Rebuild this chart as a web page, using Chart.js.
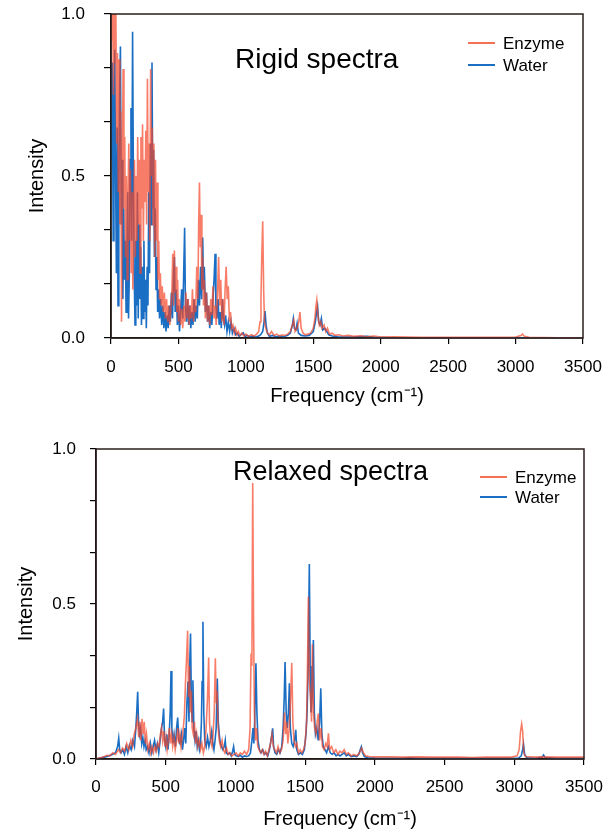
<!DOCTYPE html>
<html>
<head>
<meta charset="utf-8">
<script src="https://cdn.jsdelivr.net/npm/chart.js@4.4.1/dist/chart.umd.min.js"></script>
<style>
  body { margin: 0; background: #fff; }
  canvas { position: absolute; left: 0; }
  #rigid { top: 0; }
  #relaxed { top: 420px; }
</style>
</head>
<body>
<canvas id="rigid" width="604" height="420"></canvas>
<canvas id="relaxed" width="604" height="411"></canvas>
<script>
// [frequency cm-1, intensity]
const rigidEnzyme = [
  [5,0.92],[12,1.05],[18,0.75],[24,1.08],[30,0.85],[36,1.02],[42,0.6],[48,0.88],[54,0.45],[60,0.86],
  [66,0.35],[72,0.7],[78,0.05],[84,0.55],[90,0.83],[96,0.4],[102,0.62],[108,0.25],[114,0.5],[120,0.18],
  [126,0.42],[132,0.6],[138,0.3],[144,0.52],[150,0.2],[156,0.45],[162,0.15],[168,0.38],[174,0.55],[180,0.25],
  [186,0.5],[192,0.3],[198,0.62],[204,0.35],[210,0.55],[216,0.2],[222,0.62],[228,0.4],[234,0.66],[240,0.3],
  [246,0.55],[252,0.42],[258,0.64],[264,0.35],[270,0.8],[276,0.45],[282,0.6],[288,0.3],[294,0.83],[300,0.5],
  [306,0.65],[312,0.35],[318,0.6],[324,0.25],[330,0.55],[336,0.3],[342,0.48],[348,0.18],[354,0.3],[360,0.12],
  [366,0.2],[372,0.1],[380,0.16],[388,0.08],[396,0.14],[404,0.06],[412,0.12],[420,0.05],[428,0.1],[436,0.04],
  [444,0.09],[452,0.15],[458,0.26],[464,0.1],[470,0.27],[476,0.14],[482,0.22],[488,0.08],[494,0.18],[500,0.05],
  [508,0.12],[516,0.04],[524,0.09],[532,0.03],[540,0.1],[548,0.05],[556,0.14],[564,0.06],[572,0.12],[580,0.04],
  [588,0.1],[596,0.06],[604,0.15],[612,0.05],[620,0.12],[628,0.08],[636,0.22],[644,0.12],[650,0.35],[656,0.48],
  [662,0.28],[668,0.38],[674,0.15],[680,0.25],[686,0.1],[692,0.18],[700,0.06],[708,0.14],[716,0.05],[724,0.1],
  [732,0.04],[740,0.12],[748,0.07],[756,0.16],[764,0.06],[772,0.1],[780,0.04],[790,0.14],[798,0.25],[806,0.1],
  [814,0.18],[822,0.05],[830,0.12],[838,0.04],[846,0.15],[854,0.22],[862,0.12],[870,0.16],[878,0.05],[886,0.08],
  [894,0.03],[904,0.04],[914,0.015],[924,0.03],[934,0.01],[944,0.02],[956,0.008],[970,0.015],[985,0.006],[1000,0.012],
  [1020,0.005],[1040,0.01],[1060,0.006],[1080,0.012],[1095,0.02],[1105,0.05],[1112,0.12],[1118,0.25],[1125,0.36],[1132,0.15],
  [1138,0.05],[1148,0.03],[1160,0.015],[1175,0.01],[1190,0.02],[1210,0.008],[1230,0.012],[1250,0.006],[1270,0.01],[1290,0.008],
  [1310,0.012],[1330,0.02],[1345,0.04],[1355,0.055],[1365,0.02],[1380,0.03],[1392,0.05],[1401,0.08],[1410,0.03],[1425,0.015],
  [1440,0.01],[1460,0.012],[1480,0.015],[1500,0.03],[1512,0.06],[1520,0.1],[1526,0.117],[1534,0.07],[1545,0.04],[1555,0.05],
  [1565,0.03],[1580,0.04],[1592,0.02],[1605,0.03],[1620,0.012],[1640,0.015],[1660,0.008],[1690,0.01],[1720,0.006],[1760,0.008],
  [1800,0.005],[1850,0.007],[1900,0.004],[1950,0.006],[2000,0.003],[2100,0.004],[2200,0.003],[2300,0.002],[2500,0.002],[2700,0.002],
  [2900,0.002],[3000,0.003],[3040,0.008],[3052,0.012],[3065,0.005],[3100,0.002],[3300,0.001],[3500,0.001]
];
const rigidWater = [
  [5,0.55],[10,0.85],[16,0.3],[22,0.72],[28,0.89],[34,0.5],[40,0.2],[46,0.65],[52,0.1],[58,0.45],
  [64,0.75],[70,0.9],[76,0.35],[82,0.55],[88,0.12],[94,0.4],[100,0.18],[106,0.3],[112,0.08],[118,0.25],
  [124,0.45],[130,0.06],[136,0.2],[142,0.55],[148,0.71],[154,0.3],[160,0.945],[166,0.5],[172,0.2],[178,0.04],
  [184,0.3],[190,0.1],[196,0.45],[202,0.06],[208,0.35],[214,0.12],[220,0.28],[226,0.04],[232,0.22],[238,0.06],
  [244,0.3],[250,0.08],[256,0.18],[262,0.03],[268,0.22],[274,0.1],[280,0.45],[286,0.2],[292,0.6],[298,0.35],
  [304,0.85],[310,0.4],[316,0.58],[322,0.25],[328,0.4],[334,0.15],[340,0.25],[346,0.08],[352,0.15],[360,0.06],
  [368,0.12],[376,0.04],[384,0.1],[392,0.03],[400,0.08],[408,0.02],[416,0.07],[424,0.03],[432,0.1],[440,0.05],
  [448,0.14],[456,0.06],[464,0.2],[470,0.25],[476,0.08],[484,0.15],[492,0.04],[500,0.1],[508,0.02],[516,0.08],
  [524,0.15],[532,0.06],[540,0.22],[546,0.34],[552,0.1],[560,0.05],[568,0.12],[576,0.04],[584,0.1],[592,0.03],
  [600,0.08],[608,0.04],[616,0.12],[624,0.05],[632,0.1],[640,0.06],[648,0.18],[656,0.1],[664,0.22],[672,0.12],
  [680,0.31],[686,0.15],[692,0.22],[700,0.08],[708,0.14],[716,0.05],[724,0.1],[732,0.03],[740,0.08],[748,0.04],
  [756,0.12],[764,0.18],[772,0.26],[778,0.1],[786,0.06],[794,0.12],[802,0.04],[810,0.08],[818,0.03],[826,0.12],
  [834,0.06],[842,0.04],[850,0.07],[860,0.02],[870,0.05],[880,0.02],[890,0.05],[900,0.015],[912,0.03],[924,0.01],
  [936,0.015],[950,0.005],[965,0.01],[980,0.016],[995,0.004],[1010,0.008],[1030,0.003],[1050,0.006],[1070,0.003],[1090,0.005],
  [1110,0.01],[1125,0.02],[1135,0.05],[1142,0.083],[1150,0.04],[1160,0.015],[1175,0.005],[1200,0.008],[1220,0.004],[1250,0.006],
  [1280,0.004],[1310,0.008],[1330,0.015],[1345,0.04],[1352,0.06],[1360,0.03],[1372,0.025],[1380,0.045],[1390,0.015],[1410,0.008],
  [1440,0.006],[1470,0.008],[1500,0.02],[1515,0.05],[1525,0.08],[1532,0.097],[1540,0.05],[1550,0.04],[1560,0.06],[1570,0.025],
  [1585,0.03],[1600,0.02],[1615,0.01],[1640,0.006],[1680,0.004],[1720,0.003],[1800,0.003],[1900,0.005],[1950,0.002],[2100,0.001],
  [2500,0.001],[3000,0.001],[3500,0.001]
];
const relaxedEnzyme = [
  [0,0],[20,0.003],[40,0.005],[60,0.008],[80,0.012],[100,0.01],[120,0.02],[140,0.015],[160,0.03],[175,0.02],
  [190,0.035],[205,0.025],[220,0.05],[235,0.03],[250,0.06],[262,0.04],[274,0.08],[286,0.1],[298,0.13],[306,0.07],
  [314,0.12],[322,0.06],[330,0.13],[338,0.08],[346,0.12],[354,0.05],[362,0.08],[372,0.03],[382,0.05],[392,0.02],
  [402,0.04],[412,0.02],[422,0.04],[432,0.025],[442,0.05],[452,0.04],[462,0.08],[470,0.1],[478,0.06],[486,0.09],
  [494,0.04],[502,0.07],[510,0.03],[518,0.06],[526,0.1],[534,0.05],[542,0.08],[550,0.04],[560,0.07],[568,0.03],
  [578,0.06],[586,0.1],[594,0.05],[602,0.08],[610,0.04],[618,0.07],[626,0.1],[634,0.14],[642,0.25],[650,0.33],
  [657,0.414],[664,0.2],[670,0.3],[676,0.15],[684,0.22],[690,0.1],[698,0.08],[706,0.12],[714,0.05],[722,0.08],
  [730,0.04],[740,0.06],[750,0.03],[760,0.05],[770,0.02],[780,0.04],[790,0.1],[800,0.2],[808,0.327],[814,0.12],
  [822,0.06],[832,0.04],[840,0.08],[848,0.15],[856,0.325],[862,0.18],[868,0.22],[876,0.1],[884,0.06],[894,0.04],
  [904,0.06],[914,0.03],[924,0.02],[936,0.035],[948,0.015],[960,0.02],[975,0.01],[990,0.015],[1005,0.02],[1020,0.01],
  [1035,0.02],[1050,0.015],[1065,0.025],[1080,0.015],[1095,0.03],[1105,0.1],[1112,0.34],[1118,0.3],[1124,0.89],[1130,0.45],
  [1136,0.15],[1144,0.06],[1152,0.1],[1160,0.04],[1170,0.03],[1180,0.02],[1192,0.03],[1204,0.015],[1216,0.025],[1228,0.01],
  [1240,0.03],[1252,0.05],[1262,0.08],[1272,0.04],[1282,0.03],[1294,0.02],[1306,0.04],[1318,0.02],[1330,0.03],[1342,0.06],
  [1352,0.15],[1360,0.08],[1368,0.12],[1376,0.05],[1386,0.1],[1396,0.2],[1404,0.31],[1412,0.12],[1420,0.06],[1430,0.04],
  [1440,0.05],[1452,0.02],[1464,0.03],[1476,0.02],[1488,0.03],[1500,0.05],[1510,0.12],[1517,0.3],[1523,0.523],[1530,0.25],
  [1538,0.2],[1546,0.12],[1552,0.37],[1560,0.15],[1568,0.1],[1578,0.08],[1586,0.12],[1595,0.147],[1604,0.06],[1614,0.1],
  [1624,0.04],[1636,0.03],[1648,0.05],[1658,0.04],[1667,0.083],[1676,0.03],[1690,0.04],[1705,0.02],[1720,0.03],[1735,0.015],
  [1750,0.025],[1765,0.02],[1780,0.03],[1795,0.015],[1810,0.02],[1830,0.01],[1850,0.015],[1870,0.01],[1890,0.02],[1905,0.035],
  [1918,0.02],[1935,0.01],[1960,0.008],[2000,0.007],[2100,0.007],[2200,0.006],[2300,0.007],[2400,0.006],[2500,0.006],[2600,0.006],
  [2700,0.005],[2800,0.006],[2900,0.006],[2980,0.006],[3020,0.01],[3035,0.03],[3045,0.09],[3053,0.113],[3060,0.09],[3068,0.02],
  [3080,0.008],[3150,0.006],[3200,0.007],[3300,0.006],[3400,0.006],[3500,0.006]
];
const relaxedWater = [
  [0,0],[30,0.003],[60,0.006],[90,0.01],[120,0.015],[140,0.02],[155,0.04],[163,0.067],[170,0.03],[180,0.02],
  [192,0.03],[204,0.015],[216,0.04],[228,0.02],[240,0.045],[252,0.03],[264,0.06],[276,0.04],[286,0.1],[292,0.15],
  [299,0.217],[305,0.12],[312,0.08],[320,0.1],[328,0.05],[336,0.07],[344,0.04],[352,0.06],[360,0.03],[370,0.04],
  [380,0.02],[390,0.05],[400,0.02],[410,0.04],[420,0.06],[430,0.03],[440,0.05],[450,0.02],[460,0.06],[470,0.1],
  [478,0.12],[485,0.163],[492,0.06],[500,0.04],[508,0.08],[516,0.03],[524,0.07],[532,0.15],[538,0.284],[544,0.1],
  [552,0.05],[560,0.08],[570,0.04],[578,0.1],[586,0.134],[594,0.06],[602,0.05],[612,0.08],[620,0.03],[628,0.06],
  [636,0.1],[644,0.05],[652,0.18],[660,0.25],[667,0.12],[672,0.3],[678,0.405],[684,0.18],[690,0.12],[695,0.254],
  [702,0.1],[710,0.06],[718,0.09],[726,0.04],[734,0.06],[742,0.03],[750,0.05],[756,0.12],[761,0.25],[767,0.443],
  [773,0.15],[780,0.06],[790,0.04],[800,0.07],[810,0.04],[820,0.06],[830,0.09],[838,0.05],[846,0.03],[854,0.06],
  [862,0.1],[870,0.26],[877,0.12],[884,0.08],[892,0.05],[900,0.04],[910,0.03],[920,0.04],[927,0.06],[934,0.02],
  [946,0.015],[958,0.02],[970,0.01],[980,0.025],[987,0.04],[994,0.015],[1006,0.01],[1020,0.008],[1035,0.012],[1050,0.006],
  [1065,0.01],[1080,0.008],[1095,0.01],[1108,0.02],[1118,0.06],[1126,0.1],[1132,0.05],[1138,0.12],[1147,0.309],[1154,0.15],
  [1162,0.06],[1172,0.03],[1184,0.02],[1196,0.03],[1208,0.015],[1220,0.02],[1232,0.01],[1244,0.03],[1255,0.06],[1262,0.08],
  [1267,0.099],[1274,0.04],[1284,0.02],[1296,0.015],[1308,0.03],[1320,0.02],[1332,0.04],[1342,0.1],[1350,0.2],[1356,0.313],
  [1364,0.15],[1372,0.1],[1380,0.15],[1387,0.244],[1394,0.1],[1404,0.05],[1414,0.04],[1424,0.06],[1433,0.094],[1440,0.03],
  [1452,0.015],[1466,0.02],[1480,0.015],[1494,0.03],[1506,0.08],[1514,0.15],[1522,0.3],[1530,0.629],[1536,0.3],[1542,0.15],
  [1550,0.2],[1559,0.384],[1566,0.15],[1574,0.08],[1584,0.1],[1594,0.06],[1604,0.12],[1612,0.228],[1620,0.08],[1630,0.04],
  [1642,0.03],[1654,0.02],[1666,0.04],[1680,0.02],[1694,0.015],[1708,0.02],[1722,0.01],[1736,0.015],[1750,0.01],[1765,0.015],
  [1780,0.02],[1795,0.01],[1810,0.015],[1830,0.008],[1850,0.01],[1870,0.008],[1885,0.015],[1895,0.03],[1903,0.04],[1912,0.02],
  [1925,0.008],[1950,0.004],[2000,0.003],[2100,0.002],[2200,0.002],[2250,0.004],[2300,0.002],[2400,0.002],[2600,0.002],[2800,0.002],
  [2950,0.002],[3030,0.003],[3050,0.01],[3060,0.03],[3066,0.048],[3074,0.015],[3090,0.004],[3150,0.002],[3200,0.006],[3210,0.013],
  [3220,0.005],[3300,0.002],[3500,0.002]
];

const seriesNames = ['Enzyme', 'Water'];
const xTickValues = [0, 500, 1000, 1500, 2000, 2500, 3000, 3500];
const yTickValues = [0, 0.1667, 0.3333, 0.5, 0.6667, 0.8333, 1];
const yTickLabels = ['0.0', '', '', '0.5', '', '', '1.0'];

const enzymeColor = 'rgba(245,70,40,0.7)';
const waterColor = '#1a6ec4';
const FONT = '"Liberation Sans", Arial, sans-serif';

const toXY = (pairs) => pairs.map(([x, y]) => ({ x, y }));

// scales shouldn't push the chart area around; layout padding does it
const noScalePadding = (s) => {
  s.paddingTop = 0;
  s.paddingBottom = 0;
  s.paddingLeft = 0;
  s.paddingRight = 0;
};

// frame, in-plot title and legend
const overlayPlugin = {
  id: 'overlay',
  afterDraw(chart, args, opts) {
    const { ctx, chartArea: a } = chart;
    ctx.save();
    ctx.strokeStyle = '#2a1f1c';
    ctx.lineWidth = 1.5;
    ctx.strokeRect(a.left, a.top, a.right - a.left, a.bottom - a.top);

    ctx.fillStyle = '#000';
    ctx.textAlign = 'left';
    ctx.textBaseline = 'alphabetic';
    ctx.font = `${opts.titleSize}px ${FONT}`;
    ctx.fillText(opts.title, opts.titleX, opts.titleY);

    ctx.font = `17px ${FONT}`;
    seriesNames.forEach((name, i) => {
      const y = opts.legendY[i];
      ctx.strokeStyle = i === 0 ? 'rgb(246,112,84)' : waterColor;
      ctx.lineWidth = 2;
      ctx.beginPath();
      ctx.moveTo(opts.legendX, y);
      ctx.lineTo(opts.legendX + 27, y);
      ctx.stroke();
      ctx.fillText(name, opts.legendX + 35, y + 6);
    });
    ctx.restore();
  }
};

function makeChart(id, o) {
  return new Chart(document.getElementById(id), {
    type: 'line',
    data: {
      datasets: [
        { label: seriesNames[0], data: toXY(o.enzyme), borderColor: enzymeColor, borderWidth: 1.6, pointRadius: 0, tension: 0 },
        { label: seriesNames[1], data: toXY(o.water), borderColor: waterColor, borderWidth: 1.6, pointRadius: 0, tension: 0 }
      ]
    },
    options: {
      responsive: false,
      animation: false,
      layout: { padding: { top: o.top, right: o.right, left: 0, bottom: 0 } },
      plugins: {
        legend: { display: false },
        tooltip: { enabled: false },
        overlay: o.overlay
      },
      scales: {
        x: {
          type: 'linear',
          min: 0,
          max: 3500,
          afterFit: (s) => { s.height = o.xHeight; noScalePadding(s); },
          afterBuildTicks: (s) => { s.ticks = xTickValues.map((v) => ({ value: v })); },
          ticks: { callback: (v) => String(v), autoSkip: false, maxRotation: 0, padding: o.xPad, color: '#000', font: { family: FONT, size: 17 } },
          grid: { drawOnChartArea: false, tickLength: 6, color: '#000', lineWidth: 1.2 },
          border: { color: '#000', width: 1.5 },
          title: { display: true, text: 'Frequency (cm⁻¹)', color: '#000', font: { family: FONT, size: 20, lineHeight: 1.2 }, padding: { top: 0, bottom: o.xTitlePad } }
        },
        y: {
          min: 0,
          max: 1,
          afterFit: (s) => { s.width = o.yWidth; noScalePadding(s); },
          afterBuildTicks: (s) => { s.ticks = yTickValues.map((v) => ({ value: v })); },
          ticks: { callback: (v, i) => yTickLabels[i], autoSkip: false, padding: o.yPad, color: '#000', font: { family: FONT, size: 17 } },
          grid: { drawOnChartArea: false, tickLength: o.yTick, color: '#000', lineWidth: 1.2 },
          border: { color: '#000', width: 1.5 },
          title: { display: true, text: 'Intensity', color: '#000', font: { family: FONT, size: 20, lineHeight: 1.2 }, padding: { top: o.yTitlePad, bottom: 0 } }
        }
      }
    },
    plugins: [overlayPlugin]
  });
}

makeChart('rigid', {
  enzyme: rigidEnzyme, water: rigidWater,
  top: 14, right: 21, xHeight: 82, yWidth: 111,
  xPad: 13, yPad: 19, yTick: 7, xTitlePad: 12, yTitlePad: 25,
  overlay: { title: 'Rigid spectra', titleSize: 28, titleX: 235, titleY: 68, legendX: 468, legendY: [43, 65] }
});

makeChart('relaxed', {
  enzyme: relaxedEnzyme, water: relaxedWater,
  top: 29, right: 20, xHeight: 72, yWidth: 96,
  xPad: 12, yPad: 14, yTick: 6, xTitlePad: 0, yTitlePad: 14,
  overlay: { title: 'Relaxed spectra', titleSize: 27, titleX: 233, titleY: 60, legendX: 480, legendY: [57, 77] }
});
</script>
</body>
</html>
